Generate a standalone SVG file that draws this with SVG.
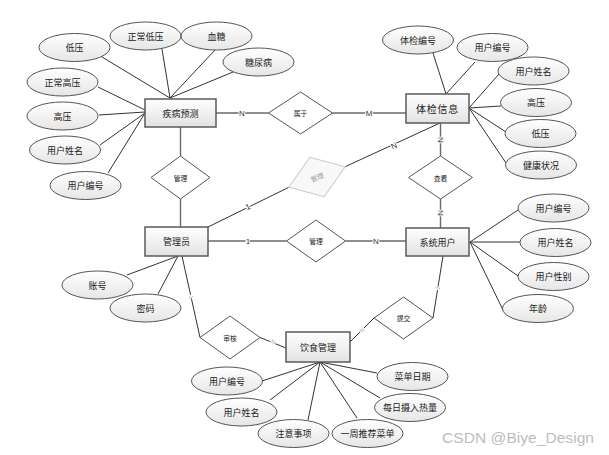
<svg xmlns="http://www.w3.org/2000/svg" width="609" height="455" viewBox="0 0 609 455">
<defs>
<linearGradient id="gb" x1="0" y1="0" x2="0" y2="1"><stop offset="0" stop-color="#ffffff"/><stop offset="1" stop-color="#e2e2e2"/></linearGradient>
<linearGradient id="ge" x1="0" y1="0" x2="0" y2="1"><stop offset="0" stop-color="#ffffff"/><stop offset="1" stop-color="#e6e6e6"/></linearGradient>
<style>
.ent{fill:url(#gb);stroke:#5a5a5a;stroke-width:1.5}
.att{fill:url(#ge);stroke:#555;stroke-width:1}
.rel{fill:#fff;stroke:#555;stroke-width:1}
.relf{fill:#f8f8f8;stroke:#c8c8c8;stroke-width:1}
text{font-family:"Noto Sans CJK SC","Liberation Sans",sans-serif;text-anchor:middle;dominant-baseline:central;fill:#222}
.t9{font-size:9px}
.t7{font-size:6.8px}
.tf{font-size:6.8px;fill:#999}
.al{stroke:#333;stroke-width:1;fill:none}
.rl{stroke:#6a6a6a;stroke-width:1.4;fill:none}
.lb{font-family:"Liberation Sans",sans-serif;font-size:8px;fill:#333;paint-order:stroke;stroke:#fff;stroke-width:2}
.lbf{font-family:"Liberation Sans",sans-serif;font-size:6px;fill:#aaa;paint-order:stroke;stroke:#fff;stroke-width:2}
.wm{font-family:"Liberation Sans",sans-serif;font-size:15px;fill:#bdbdbd;text-anchor:start;dominant-baseline:auto}
</style>
</defs>
<rect width="609" height="455" fill="#fff"/>

<g id="connectors">
<!-- 疾病预测 attributes -->
<line class="al" x1="102" y1="57" x2="170" y2="98"/>
<line class="al" x1="162" y1="49" x2="170" y2="98"/>
<line class="al" x1="215" y1="50" x2="170" y2="98"/>
<line class="al" x1="233" y1="72" x2="170" y2="98"/>
<line class="al" x1="98" y1="87" x2="145" y2="110"/>
<line class="al" x1="99" y1="115" x2="145" y2="112"/>
<line class="al" x1="100" y1="145" x2="145" y2="113"/>
<line class="al" x1="108" y1="173" x2="145" y2="113"/>
<!-- 体检信息 attributes -->
<line class="al" x1="433" y1="53" x2="446" y2="94"/>
<line class="al" x1="475" y1="62" x2="446" y2="94"/>
<line class="al" x1="499" y1="74" x2="469" y2="108"/>
<line class="al" x1="501" y1="106" x2="469" y2="108"/>
<line class="al" x1="506" y1="132" x2="469" y2="108"/>
<line class="al" x1="506" y1="163" x2="469" y2="108"/>
<!-- 系统用户 attributes -->
<line class="al" x1="518" y1="210" x2="470" y2="242"/>
<line class="al" x1="520" y1="242" x2="470" y2="242"/>
<line class="al" x1="518" y1="276" x2="470" y2="242"/>
<line class="al" x1="503" y1="310" x2="470" y2="242"/>
<!-- 管理员 attributes -->
<line class="al" x1="127" y1="275" x2="178" y2="256"/>
<line class="al" x1="158" y1="294" x2="178" y2="256"/>
<!-- 饮食管理 attributes -->
<line class="al" x1="262" y1="381" x2="320" y2="362"/>
<line class="al" x1="270" y1="400" x2="320" y2="362"/>
<line class="al" x1="308" y1="420" x2="320" y2="362"/>
<line class="al" x1="357" y1="418" x2="320" y2="362"/>
<line class="al" x1="380" y1="398" x2="320" y2="362"/>
<line class="al" x1="377" y1="373" x2="320" y2="362"/>
<!-- relationships -->
<line class="rl" x1="216" y1="113" x2="268.5" y2="113"/>
<line class="rl" x1="332.5" y1="113" x2="406" y2="113"/>
<line class="rl" x1="180.5" y1="127" x2="180.5" y2="156"/>
<line class="rl" x1="180.5" y1="199" x2="180.5" y2="227"/>
<line class="al" x1="208" y1="227" x2="288.8" y2="187.3"/>
<line class="al" x1="345.2" y1="166.7" x2="440" y2="123"/>
<line class="rl" x1="440.5" y1="123" x2="440.5" y2="156"/>
<line class="rl" x1="440.5" y1="199" x2="440.5" y2="228"/>
<line class="rl" x1="208" y1="241" x2="286.5" y2="241"/>
<line class="rl" x1="345.5" y1="241" x2="406" y2="241"/>
<line class="al" x1="182" y1="256" x2="200" y2="337.5"/>
<line class="al" x1="260" y1="337.5" x2="286" y2="348"/>
<line class="al" x1="443" y1="256" x2="433" y2="318"/>
<line class="al" x1="374" y1="318" x2="350" y2="342"/>
<!-- labels -->
<text class="lb" x="242" y="113">N</text>
<text class="lb" x="369" y="113">M</text>
<text class="lb" x="248" y="207" transform="rotate(-26 248 207)">1</text>
<text class="lb" x="394" y="146" transform="rotate(-24 394 146)">N</text>
<text class="lb" x="440.5" y="140" transform="rotate(90 440.5 140)">N</text>
<text class="lb" x="440.5" y="213" transform="rotate(90 440.5 213)">N</text>
<text class="lb" x="248" y="241">1</text>
<text class="lb" x="376" y="241">N</text>
<text class="lbf" x="191" y="297" transform="rotate(77 191 297)">1</text>
<text class="lbf" x="273" y="342" transform="rotate(22 273 342)">N</text>
<text class="lbf" x="438" y="288" transform="rotate(-81 438 288)">1</text>
<text class="lbf" x="362" y="330" transform="rotate(-45 362 330)">N</text>
</g>

<!-- entities -->
<g id="e-jibing"><rect class="ent" x="145" y="99" width="71" height="28"/><text class="t9" x="180.5" y="113">疾病预测</text></g>
<g id="e-tijian"><rect class="ent" x="406" y="94" width="63" height="29"/><text class="t9" x="437.5" y="108.5" style="font-size:10px;letter-spacing:0.8px">体检信息</text></g>
<g id="e-guanli"><rect class="ent" x="145" y="227" width="63" height="29"/><text class="t9" x="176.5" y="241.5">管理员</text></g>
<g id="e-xitong"><rect class="ent" x="406" y="228" width="63" height="28"/><text class="t9" x="437.5" y="242">系统用户</text></g>
<g id="e-yinshi"><rect class="ent" x="286" y="332" width="64" height="30"/><text class="t9" x="318" y="347">饮食管理</text></g>

<!-- relationships -->
<g id="r-guanli1"><polygon class="rel" points="151,177.5 180.5,156 210,177.5 180.5,199"/><text class="t7" x="180.5" y="177.5">管理</text></g>
<g id="r-shuyu"><polygon class="rel" points="268.5,113 300.5,92 332.5,113 300.5,134"/><text class="t7" x="300.5" y="113">属于</text></g>
<g id="r-guanli2" transform="rotate(-20 317 177)"><polygon class="relf" points="287,177 317,156 347,177 317,198"/><text class="tf" x="317" y="177">管理</text></g>
<g id="r-chakan"><polygon class="rel" points="408.5,177.5 440.5,156 472.5,177.5 440.5,199"/><text class="t7" x="440.5" y="177.5">查看</text></g>
<g id="r-guanli3"><polygon class="rel" points="286.5,241 316,220 345.5,241 316,262"/><text class="t7" x="316" y="241">管理</text></g>
<g id="r-shenhe"><polygon class="rel" points="200,337.5 230,316 260,337.5 230,359"/><text class="t7" x="230" y="337.5">审核</text></g>
<g id="r-tijiao"><polygon class="rel" points="374,318 403.5,297 433,318 403.5,339"/><text class="t7" x="403.5" y="318">提交</text></g>

<!-- attributes of 疾病预测 -->
<g id="a-jb-diya"><ellipse class="att" cx="74.5" cy="47.5" rx="35.5" ry="14"/><text class="t9" x="74.5" y="47.5">低压</text></g>
<g id="a-jb-zcdy"><ellipse class="att" cx="145.5" cy="36" rx="35.5" ry="14"/><text class="t9" x="145.5" y="36">正常低压</text></g>
<g id="a-jb-xuetang"><ellipse class="att" cx="216.5" cy="36" rx="35.5" ry="14"/><text class="t9" x="216.5" y="36">血糖</text></g>
<g id="a-jb-tnb"><ellipse class="att" cx="258.5" cy="62" rx="35.5" ry="14"/><text class="t9" x="258.5" y="62">糖尿病</text></g>
<g id="a-jb-zcgy"><ellipse class="att" cx="62.5" cy="82" rx="35.5" ry="14"/><text class="t9" x="62.5" y="82">正常高压</text></g>
<g id="a-jb-gaoya"><ellipse class="att" cx="62.5" cy="116" rx="35.5" ry="14"/><text class="t9" x="62.5" y="116">高压</text></g>
<g id="a-jb-xm"><ellipse class="att" cx="65" cy="150" rx="35.5" ry="14"/><text class="t9" x="65" y="150">用户姓名</text></g>
<g id="a-jb-bh"><ellipse class="att" cx="85.5" cy="185.5" rx="35.5" ry="14"/><text class="t9" x="85.5" y="185.5">用户编号</text></g>

<!-- attributes of 体检信息 -->
<g id="a-tj-bh"><ellipse class="att" cx="418" cy="40" rx="35.5" ry="14"/><text class="t9" x="418" y="40">体检编号</text></g>
<g id="a-tj-yhbh"><ellipse class="att" cx="492.5" cy="47.5" rx="35.5" ry="14"/><text class="t9" x="492.5" y="47.5">用户编号</text></g>
<g id="a-tj-xm"><ellipse class="att" cx="533.5" cy="71" rx="35.5" ry="14"/><text class="t9" x="533.5" y="71">用户姓名</text></g>
<g id="a-tj-gaoya"><ellipse class="att" cx="536" cy="102.5" rx="35.5" ry="14"/><text class="t9" x="536" y="102.5">高压</text></g>
<g id="a-tj-diya"><ellipse class="att" cx="540.5" cy="133.5" rx="35.5" ry="14"/><text class="t9" x="540.5" y="133.5">低压</text></g>
<g id="a-tj-jk"><ellipse class="att" cx="541" cy="165" rx="35.5" ry="14"/><text class="t9" x="541" y="165">健康状况</text></g>

<!-- attributes of 系统用户 -->
<g id="a-xt-bh"><ellipse class="att" cx="553.5" cy="208" rx="35.5" ry="14"/><text class="t9" x="553.5" y="208">用户编号</text></g>
<g id="a-xt-xm"><ellipse class="att" cx="555.5" cy="242.5" rx="35.5" ry="14"/><text class="t9" x="555.5" y="242.5">用户姓名</text></g>
<g id="a-xt-xb"><ellipse class="att" cx="553.5" cy="276.5" rx="35.5" ry="14"/><text class="t9" x="553.5" y="276.5">用户性别</text></g>
<g id="a-xt-nl"><ellipse class="att" cx="538" cy="308.5" rx="35.5" ry="14"/><text class="t9" x="538" y="308.5">年龄</text></g>

<!-- attributes of 管理员 -->
<g id="a-gl-zh"><ellipse class="att" cx="97.5" cy="285" rx="35.5" ry="14"/><text class="t9" x="97.5" y="285">账号</text></g>
<g id="a-gl-mm"><ellipse class="att" cx="145.5" cy="308" rx="35.5" ry="14"/><text class="t9" x="145.5" y="308">密码</text></g>

<!-- attributes of 饮食管理 -->
<g id="a-ys-bh"><ellipse class="att" cx="227" cy="381" rx="35.5" ry="14"/><text class="t9" x="227" y="381">用户编号</text></g>
<g id="a-ys-xm"><ellipse class="att" cx="241.5" cy="412" rx="35.5" ry="14"/><text class="t9" x="241.5" y="412">用户姓名</text></g>
<g id="a-ys-zysx"><ellipse class="att" cx="293.5" cy="433.5" rx="35.5" ry="14"/><text class="t9" x="293.5" y="433.5">注意事项</text></g>
<g id="a-ys-yztj"><ellipse class="att" cx="367.5" cy="433.5" rx="35.5" ry="14"/><text class="t9" x="367.5" y="433.5">一周推荐菜单</text></g>
<g id="a-ys-mrsr"><ellipse class="att" cx="410" cy="407.5" rx="35.5" ry="14"/><text class="t9" x="410" y="407.5">每日摄入热量</text></g>
<g id="a-ys-cdrq"><ellipse class="att" cx="412.5" cy="376.5" rx="35.5" ry="14"/><text class="t9" x="412.5" y="376.5">菜单日期</text></g>

<text class="wm" x="442" y="443" textLength="152" lengthAdjust="spacingAndGlyphs">CSDN @Biye_Design</text>
</svg>
